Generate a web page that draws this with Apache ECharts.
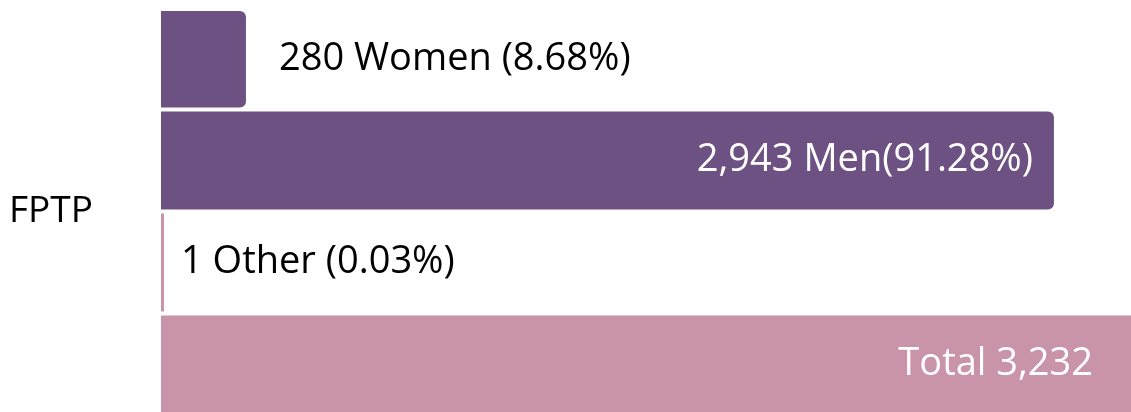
<!DOCTYPE html>
<html>
<head>
<meta charset="utf-8">
<script src="https://cdn.jsdelivr.net/npm/echarts@6/dist/echarts.min.js"></script>
<style>
  html, body { margin: 0; padding: 0; background: #fff; }
  #chart { width: 1131px; height: 412px; }
</style>
</head>
<body>
<div id="chart"></div>
<script>
var categories = ['FPTP'];
var groupNames = ['Women', 'Men', 'Other', 'Total'];
var groupValues = [280, 2943, 1, 3232];
var groupLabels = ['280 Women (8.68%)', '2,943 Men(91.28%)', '1 Other (0.03%)', 'Total 3,232'];

var purple = '#6c5182';
var pink = '#c993aa';
var font = 'Open Sans';

var chartDom = document.getElementById('chart');
var myChart = echarts.init(chartDom);

// per-bar styling, index matches groupNames
var styles = [
  { color: purple, labelPos: 'right', labelColor: '#000', dist: 33, radius: [0, 6, 6, 0] },
  { color: purple, labelPos: 'insideRight', labelColor: '#fff', dist: 21, radius: [0, 6, 6, 0] },
  { color: pink, labelPos: 'right', labelColor: '#000', dist: 17, radius: 0 },
  { color: pink, labelPos: 'insideRight', labelColor: '#fff', dist: 38, radius: 0 }
];

var series = groupNames.map(function (name, i) {
  return {
    name: name,
    type: 'bar',
    data: [groupValues[i]],
    barWidth: 98,
    barGap: '4%',
    barMinHeight: i === 2 ? 3 : 0,
    itemStyle: {
      color: styles[i].color,
      borderRadius: styles[i].radius
    },
    label: {
      show: true,
      position: styles[i].labelPos,
      distance: styles[i].dist,
      formatter: groupLabels[i],
      color: styles[i].labelColor,
      fontFamily: font,
      fontSize: 38
    },
    silent: true
  };
});

var option = {
  animation: false,
  grid: {
    left: 161,
    top: 11,
    right: 0,
    bottom: -2
  },
  xAxis: {
    type: 'value',
    min: 0,
    max: 3197, // total bar runs past the right edge in the original
    show: false
  },
  yAxis: {
    type: 'category',
    data: categories,
    axisLine: { show: false },
    axisTick: { show: false },
    axisLabel: {
      margin: 68,
      color: '#000',
      fontFamily: font,
      fontSize: 37
    }
  },
  series: series
};

option && myChart.setOption(option);
</script>
</body>
</html>
